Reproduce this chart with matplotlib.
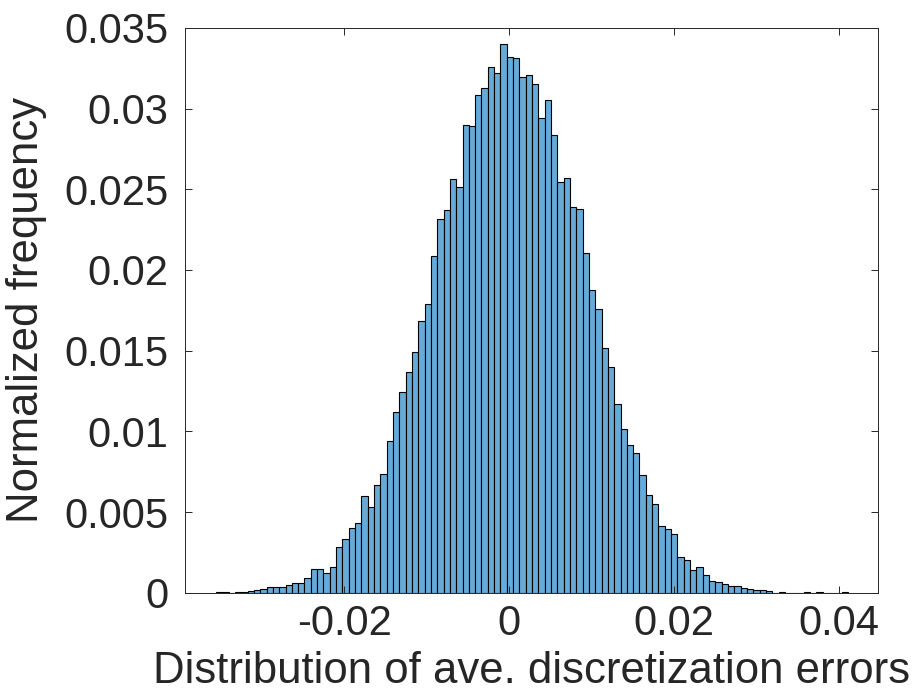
import matplotlib
matplotlib.use("Agg")
from matplotlib import pyplot as plt

# histogram: 100 bins, normalized frequency
bin_start = -0.03558
bin_width = 0.000767
freqs = [
    0.00006, 0.00006, 0.0, 0.00006, 0.00006, 0.00012, 0.00017, 0.00023, 0.00033, 0.00033,
    0.00033, 0.00048, 0.0006, 0.0006, 0.00089, 0.00145, 0.00145, 0.00124, 0.00157, 0.00281,
    0.00335, 0.00399, 0.0043, 0.00601, 0.00529, 0.00666, 0.00734, 0.00942, 0.0112, 0.01244,
    0.0137, 0.0149, 0.01686, 0.01791, 0.02089, 0.02316, 0.0237, 0.02564, 0.02513, 0.02899,
    0.02891, 0.03087, 0.03126, 0.0326, 0.03221, 0.03399, 0.0332, 0.03314, 0.03194, 0.03207,
    0.03155, 0.0294, 0.03054, 0.02839, 0.02547, 0.02572, 0.02392, 0.02376, 0.02104, 0.01876,
    0.01757, 0.01519, 0.01401, 0.01168, 0.01013, 0.00917, 0.00864, 0.00728, 0.00604, 0.00548,
    0.00412, 0.00395, 0.00364, 0.00223, 0.00203, 0.00141, 0.00157, 0.00108, 0.00074, 0.00066,
    0.00056, 0.00042, 0.00042, 0.00027, 0.00021, 0.00019, 0.00019, 0.00012, 0.0, 0.00006,
    0.0, 0.0, 0.0, 0.00006, 0.0, 0.00006, 0.0, 0.0, 0.0, 0.00006,
]
left_edges = [bin_start + i * bin_width for i in range(len(freqs))]

xticks = [-0.02, 0, 0.02, 0.04]
xtick_labels = ["-0.02", "0", "0.02", "0.04"]
yticks = [0, 0.005, 0.01, 0.015, 0.02, 0.025, 0.03, 0.035]
ytick_labels = ["0", "0.005", "0.01", "0.015", "0.02", "0.025", "0.03", "0.035"]

plt.rcParams["font.family"] = ["Liberation Sans", "DejaVu Sans"]
txt = "#262626"

fig = plt.figure(figsize=(9.15, 6.91), dpi=100)
ax = fig.add_axes([0.2022, 0.1423, 0.7577, 0.8172])

ax.bar(left_edges, freqs, width=bin_width, align="edge",
       color="#66aad7", edgecolor="black", linewidth=0.8)

ax.set_xlim(-0.03934, 0.04479)
ax.set_ylim(0, 0.035)
ax.set_xticks(xticks, labels=xtick_labels)
ax.set_yticks(yticks, labels=ytick_labels)

for s in ax.spines.values():
    s.set_color("#262626")
    s.set_linewidth(0.7)
ax.tick_params(axis="both", direction="in", length=5, width=0.7, color="#262626",
               labelsize=30, labelcolor=txt, top=True, right=True)
ax.tick_params(axis="y", pad=12)
ax.tick_params(axis="x", pad=8)

ax.set_xlabel("Distribution of ave. discretization errors", fontsize=31.5, color=txt, labelpad=5)
ax.set_ylabel("Normalized frequency", fontsize=31.5, color=txt, labelpad=12)

plt.savefig("out.png", dpi=100)
